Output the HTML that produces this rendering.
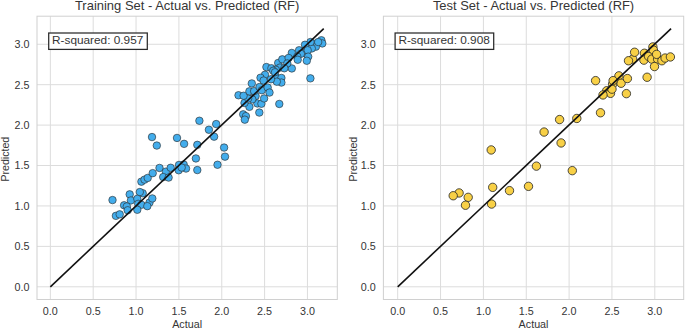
<!DOCTYPE html>
<html><head><meta charset="utf-8"><style>
html,body{margin:0;padding:0;background:#fff;}
body{width:685px;height:330px;overflow:hidden;}
svg{display:block;}
text{font-family:"Liberation Sans",sans-serif;fill:#353535;}
</style></head><body>
<svg width="685" height="330" viewBox="0 0 685 330">
<path d="M50.35 16.2V299.5M37.0 286.80H337.3M93.20 16.2V299.5M37.0 246.38H337.3M136.05 16.2V299.5M37.0 205.95H337.3M178.90 16.2V299.5M37.0 165.53H337.3M221.75 16.2V299.5M37.0 125.10H337.3M264.60 16.2V299.5M37.0 84.68H337.3M307.45 16.2V299.5M37.0 44.25H337.3" stroke="#dcdcdc" stroke-width="1.0" fill="none"/>
<rect x="37.0" y="16.2" width="300.30" height="283.30" fill="none" stroke="#d0d0d0" stroke-width="1"/>
<text x="50.35" y="314.80" font-size="10.28" text-anchor="middle" textLength="14.94" lengthAdjust="spacingAndGlyphs">0.0</text>
<text x="29.40" y="290.75" font-size="10.28" text-anchor="end" textLength="14.94" lengthAdjust="spacingAndGlyphs">0.0</text>
<text x="93.20" y="314.80" font-size="10.28" text-anchor="middle" textLength="14.94" lengthAdjust="spacingAndGlyphs">0.5</text>
<text x="29.40" y="250.32" font-size="10.28" text-anchor="end" textLength="14.94" lengthAdjust="spacingAndGlyphs">0.5</text>
<text x="136.05" y="314.80" font-size="10.28" text-anchor="middle" textLength="14.94" lengthAdjust="spacingAndGlyphs">1.0</text>
<text x="29.40" y="209.90" font-size="10.28" text-anchor="end" textLength="14.94" lengthAdjust="spacingAndGlyphs">1.0</text>
<text x="178.90" y="314.80" font-size="10.28" text-anchor="middle" textLength="14.94" lengthAdjust="spacingAndGlyphs">1.5</text>
<text x="29.40" y="169.48" font-size="10.28" text-anchor="end" textLength="14.94" lengthAdjust="spacingAndGlyphs">1.5</text>
<text x="221.75" y="314.80" font-size="10.28" text-anchor="middle" textLength="14.94" lengthAdjust="spacingAndGlyphs">2.0</text>
<text x="29.40" y="129.05" font-size="10.28" text-anchor="end" textLength="14.94" lengthAdjust="spacingAndGlyphs">2.0</text>
<text x="264.60" y="314.80" font-size="10.28" text-anchor="middle" textLength="14.94" lengthAdjust="spacingAndGlyphs">2.5</text>
<text x="29.40" y="88.63" font-size="10.28" text-anchor="end" textLength="14.94" lengthAdjust="spacingAndGlyphs">2.5</text>
<text x="307.45" y="314.80" font-size="10.28" text-anchor="middle" textLength="14.94" lengthAdjust="spacingAndGlyphs">3.0</text>
<text x="29.40" y="48.20" font-size="10.28" text-anchor="end" textLength="14.94" lengthAdjust="spacingAndGlyphs">3.0</text>
<text x="187.15" y="9.85" font-size="12.4" text-anchor="middle" textLength="224.43" lengthAdjust="spacingAndGlyphs">Training Set - Actual vs. Predicted (RF)</text>
<text x="187.15" y="327.50" font-size="10.18" text-anchor="middle" textLength="29.89" lengthAdjust="spacingAndGlyphs">Actual</text>
<text x="0.00" y="0.00" font-size="10.18" text-anchor="middle" textLength="44.78" lengthAdjust="spacingAndGlyphs" transform="translate(9.30,159.2) rotate(-90)">Predicted</text>
<g fill="#43adec" stroke="#2a2a2a" stroke-width="0.62"><circle cx="255.60" cy="96.05" r="3.75"/><circle cx="112.50" cy="200.05" r="3.75"/><circle cx="129.70" cy="194.35" r="3.75"/><circle cx="130.90" cy="200.45" r="3.75"/><circle cx="124.10" cy="205.25" r="3.75"/><circle cx="126.80" cy="206.45" r="3.75"/><circle cx="127.70" cy="210.25" r="3.75"/><circle cx="115.90" cy="215.85" r="3.75"/><circle cx="119.70" cy="214.35" r="3.75"/><circle cx="142.70" cy="193.25" r="3.75"/><circle cx="139.80" cy="192.05" r="3.75"/><circle cx="137.30" cy="198.85" r="3.75"/><circle cx="138.20" cy="203.85" r="3.75"/><circle cx="141.40" cy="204.75" r="3.75"/><circle cx="137.30" cy="209.75" r="3.75"/><circle cx="149.50" cy="202.55" r="3.75"/><circle cx="152.30" cy="198.45" r="3.75"/><circle cx="147.30" cy="206.15" r="3.75"/><circle cx="141.40" cy="181.65" r="3.75"/><circle cx="144.50" cy="179.65" r="3.75"/><circle cx="147.70" cy="177.95" r="3.75"/><circle cx="152.70" cy="173.15" r="3.75"/><circle cx="159.50" cy="167.95" r="3.75"/><circle cx="165.90" cy="171.65" r="3.75"/><circle cx="170.70" cy="167.75" r="3.75"/><circle cx="163.20" cy="177.05" r="3.75"/><circle cx="168.60" cy="177.55" r="3.75"/><circle cx="179.00" cy="164.95" r="3.75"/><circle cx="183.70" cy="164.55" r="3.75"/><circle cx="186.00" cy="168.55" r="3.75"/><circle cx="178.70" cy="170.25" r="3.75"/><circle cx="181.70" cy="167.55" r="3.75"/><circle cx="197.30" cy="170.05" r="3.75"/><circle cx="152.00" cy="137.05" r="3.75"/><circle cx="156.80" cy="145.55" r="3.75"/><circle cx="177.00" cy="137.95" r="3.75"/><circle cx="184.10" cy="143.85" r="3.75"/><circle cx="197.30" cy="144.85" r="3.75"/><circle cx="199.40" cy="120.75" r="3.75"/><circle cx="216.20" cy="124.05" r="3.75"/><circle cx="208.90" cy="129.75" r="3.75"/><circle cx="214.10" cy="136.65" r="3.75"/><circle cx="224.10" cy="147.55" r="3.75"/><circle cx="225.00" cy="156.65" r="3.75"/><circle cx="217.50" cy="164.75" r="3.75"/><circle cx="243.20" cy="114.35" r="3.75"/><circle cx="245.90" cy="116.15" r="3.75"/><circle cx="244.80" cy="119.65" r="3.75"/><circle cx="259.30" cy="112.55" r="3.75"/><circle cx="249.40" cy="106.85" r="3.75"/><circle cx="257.30" cy="103.45" r="3.75"/><circle cx="261.40" cy="103.75" r="3.75"/><circle cx="264.10" cy="98.45" r="3.75"/><circle cx="244.50" cy="102.95" r="3.75"/><circle cx="252.30" cy="99.35" r="3.75"/><circle cx="248.20" cy="98.45" r="3.75"/><circle cx="238.50" cy="95.25" r="3.75"/><circle cx="243.60" cy="95.75" r="3.75"/><circle cx="249.40" cy="91.35" r="3.75"/><circle cx="251.80" cy="83.45" r="3.75"/><circle cx="254.10" cy="91.15" r="3.75"/><circle cx="259.50" cy="87.05" r="3.75"/><circle cx="261.80" cy="90.25" r="3.75"/><circle cx="267.70" cy="87.55" r="3.75"/><circle cx="269.50" cy="92.55" r="3.75"/><circle cx="321.40" cy="40.25" r="3.75"/><circle cx="322.30" cy="43.45" r="3.75"/><circle cx="315.00" cy="43.85" r="3.75"/><circle cx="315.90" cy="46.65" r="3.75"/><circle cx="311.80" cy="48.45" r="3.75"/><circle cx="310.50" cy="42.05" r="3.75"/><circle cx="305.00" cy="44.75" r="3.75"/><circle cx="304.50" cy="52.95" r="3.75"/><circle cx="307.70" cy="50.25" r="3.75"/><circle cx="308.20" cy="56.65" r="3.75"/><circle cx="299.10" cy="50.25" r="3.75"/><circle cx="300.90" cy="53.85" r="3.75"/><circle cx="291.80" cy="52.95" r="3.75"/><circle cx="297.30" cy="56.65" r="3.75"/><circle cx="266.40" cy="67.05" r="3.75"/><circle cx="271.40" cy="68.25" r="3.75"/><circle cx="265.00" cy="74.75" r="3.75"/><circle cx="278.20" cy="62.95" r="3.75"/><circle cx="282.30" cy="59.35" r="3.75"/><circle cx="280.00" cy="67.55" r="3.75"/><circle cx="275.90" cy="69.75" r="3.75"/><circle cx="291.80" cy="68.45" r="3.75"/><circle cx="288.60" cy="57.95" r="3.75"/><circle cx="297.70" cy="59.75" r="3.75"/><circle cx="306.80" cy="60.75" r="3.75"/><circle cx="287.30" cy="63.45" r="3.75"/><circle cx="275.90" cy="77.05" r="3.75"/><circle cx="281.40" cy="77.95" r="3.75"/><circle cx="281.40" cy="82.55" r="3.75"/><circle cx="276.80" cy="81.65" r="3.75"/><circle cx="273.20" cy="70.75" r="3.75"/><circle cx="284.30" cy="68.25" r="3.75"/><circle cx="310.40" cy="78.35" r="3.75"/><circle cx="279.30" cy="103.95" r="3.75"/><circle cx="260.50" cy="77.75" r="3.75"/><circle cx="195.90" cy="158.45" r="3.75"/><circle cx="271.00" cy="79.25" r="3.75"/><circle cx="275.00" cy="72.25" r="3.75"/><circle cx="263.60" cy="80.55" r="3.75"/><circle cx="318.20" cy="42.05" r="3.75"/></g>
<path d="M50.35 286.80L323.73 28.65" stroke="#111" stroke-width="1.6" fill="none"/>
<rect x="48.70" y="33.0" width="98.6" height="16.4" fill="#fff" stroke="#2a2a2a" stroke-width="1.25"/>
<text x="52.00" y="44.00" font-size="11.34" text-anchor="start" textLength="91.34" lengthAdjust="spacingAndGlyphs">R-squared: 0.957</text>
<path d="M397.70 16.2V299.5M383.4 286.80H683.7M440.55 16.2V299.5M383.4 246.38H683.7M483.40 16.2V299.5M383.4 205.95H683.7M526.25 16.2V299.5M383.4 165.53H683.7M569.10 16.2V299.5M383.4 125.10H683.7M611.95 16.2V299.5M383.4 84.68H683.7M654.80 16.2V299.5M383.4 44.25H683.7" stroke="#dcdcdc" stroke-width="1.0" fill="none"/>
<rect x="383.4" y="16.2" width="300.30" height="283.30" fill="none" stroke="#d0d0d0" stroke-width="1"/>
<text x="397.70" y="314.80" font-size="10.28" text-anchor="middle" textLength="14.94" lengthAdjust="spacingAndGlyphs">0.0</text>
<text x="375.80" y="290.75" font-size="10.28" text-anchor="end" textLength="14.94" lengthAdjust="spacingAndGlyphs">0.0</text>
<text x="440.55" y="314.80" font-size="10.28" text-anchor="middle" textLength="14.94" lengthAdjust="spacingAndGlyphs">0.5</text>
<text x="375.80" y="250.32" font-size="10.28" text-anchor="end" textLength="14.94" lengthAdjust="spacingAndGlyphs">0.5</text>
<text x="483.40" y="314.80" font-size="10.28" text-anchor="middle" textLength="14.94" lengthAdjust="spacingAndGlyphs">1.0</text>
<text x="375.80" y="209.90" font-size="10.28" text-anchor="end" textLength="14.94" lengthAdjust="spacingAndGlyphs">1.0</text>
<text x="526.25" y="314.80" font-size="10.28" text-anchor="middle" textLength="14.94" lengthAdjust="spacingAndGlyphs">1.5</text>
<text x="375.80" y="169.48" font-size="10.28" text-anchor="end" textLength="14.94" lengthAdjust="spacingAndGlyphs">1.5</text>
<text x="569.10" y="314.80" font-size="10.28" text-anchor="middle" textLength="14.94" lengthAdjust="spacingAndGlyphs">2.0</text>
<text x="375.80" y="129.05" font-size="10.28" text-anchor="end" textLength="14.94" lengthAdjust="spacingAndGlyphs">2.0</text>
<text x="611.95" y="314.80" font-size="10.28" text-anchor="middle" textLength="14.94" lengthAdjust="spacingAndGlyphs">2.5</text>
<text x="375.80" y="88.63" font-size="10.28" text-anchor="end" textLength="14.94" lengthAdjust="spacingAndGlyphs">2.5</text>
<text x="654.80" y="314.80" font-size="10.28" text-anchor="middle" textLength="14.94" lengthAdjust="spacingAndGlyphs">3.0</text>
<text x="375.80" y="48.20" font-size="10.28" text-anchor="end" textLength="14.94" lengthAdjust="spacingAndGlyphs">3.0</text>
<text x="533.55" y="9.85" font-size="12.4" text-anchor="middle" textLength="201.30" lengthAdjust="spacingAndGlyphs">Test Set - Actual vs. Predicted (RF)</text>
<text x="533.55" y="327.50" font-size="10.18" text-anchor="middle" textLength="29.89" lengthAdjust="spacingAndGlyphs">Actual</text>
<text x="0.00" y="0.00" font-size="10.18" text-anchor="middle" textLength="44.78" lengthAdjust="spacingAndGlyphs" transform="translate(356.50,159.2) rotate(-90)">Predicted</text>
<g fill="#f8d046" stroke="#222" stroke-width="0.8"><circle cx="459.10" cy="192.95" r="4.2"/><circle cx="453.20" cy="195.75" r="4.2"/><circle cx="468.20" cy="197.35" r="4.2"/><circle cx="465.50" cy="205.25" r="4.2"/><circle cx="492.70" cy="187.35" r="4.2"/><circle cx="491.60" cy="204.05" r="4.2"/><circle cx="491.20" cy="149.95" r="4.2"/><circle cx="509.50" cy="190.65" r="4.2"/><circle cx="528.50" cy="186.35" r="4.2"/><circle cx="595.60" cy="80.65" r="4.2"/><circle cx="606.70" cy="90.75" r="4.2"/><circle cx="612.60" cy="84.25" r="4.2"/><circle cx="610.50" cy="93.35" r="4.2"/><circle cx="603.00" cy="94.95" r="4.2"/><circle cx="612.00" cy="89.15" r="4.2"/><circle cx="618.90" cy="75.85" r="4.2"/><circle cx="621.10" cy="83.25" r="4.2"/><circle cx="613.10" cy="80.65" r="4.2"/><circle cx="627.40" cy="78.55" r="4.2"/><circle cx="626.40" cy="93.65" r="4.2"/><circle cx="647.10" cy="77.25" r="4.2"/><circle cx="559.60" cy="119.55" r="4.2"/><circle cx="576.80" cy="118.45" r="4.2"/><circle cx="600.50" cy="112.75" r="4.2"/><circle cx="544.10" cy="132.05" r="4.2"/><circle cx="561.10" cy="142.95" r="4.2"/><circle cx="536.40" cy="166.15" r="4.2"/><circle cx="572.30" cy="170.65" r="4.2"/><circle cx="632.70" cy="59.15" r="4.2"/><circle cx="628.50" cy="60.75" r="4.2"/><circle cx="634.60" cy="52.25" r="4.2"/><circle cx="644.40" cy="53.25" r="4.2"/><circle cx="643.90" cy="60.15" r="4.2"/><circle cx="648.60" cy="56.45" r="4.2"/><circle cx="652.90" cy="46.95" r="4.2"/><circle cx="651.80" cy="59.15" r="4.2"/><circle cx="657.60" cy="59.15" r="4.2"/><circle cx="661.90" cy="60.75" r="4.2"/><circle cx="665.10" cy="58.05" r="4.2"/><circle cx="670.40" cy="56.95" r="4.2"/><circle cx="653.40" cy="50.05" r="4.2"/><circle cx="656.60" cy="54.35" r="4.2"/><circle cx="654.50" cy="66.55" r="4.2"/></g>
<path d="M397.70 286.80L671.08 28.65" stroke="#111" stroke-width="1.6" fill="none"/>
<rect x="395.10" y="33.0" width="98.6" height="16.4" fill="#fff" stroke="#2a2a2a" stroke-width="1.25"/>
<text x="398.40" y="44.00" font-size="11.34" text-anchor="start" textLength="91.43" lengthAdjust="spacingAndGlyphs">R-squared: 0.908</text>
</svg>
</body></html>
